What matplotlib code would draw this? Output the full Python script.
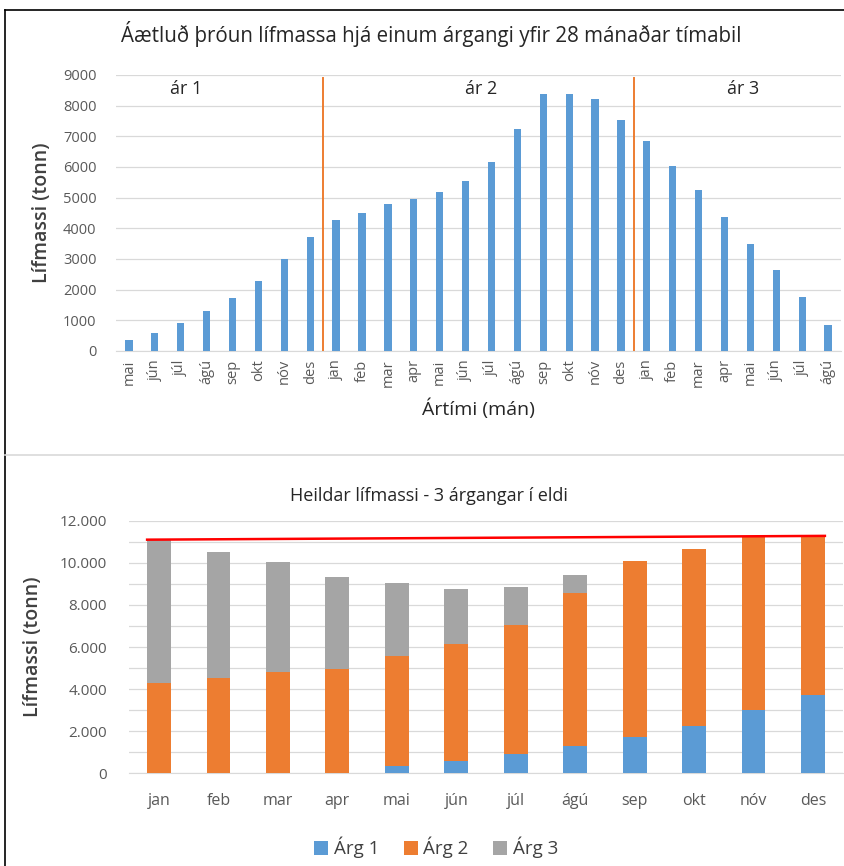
import numpy as np
import matplotlib
matplotlib.use('Agg')
import matplotlib.pyplot as plt
from matplotlib.lines import Line2D
from matplotlib.ticker import FuncFormatter

plt.rcParams['font.family'] = ['Open Sans', 'DejaVu Sans']

# top chart: one year-class over 28 months
months_28 = ['mai', 'jún', 'júl', 'ágú', 'sep', 'okt', 'nóv', 'des',
             'jan', 'feb', 'mar', 'apr', 'mai', 'jún', 'júl', 'ágú', 'sep', 'okt', 'nóv', 'des',
             'jan', 'feb', 'mar', 'apr', 'mai', 'jún', 'júl', 'ágú']
biomass_28 = [360, 600, 900, 1300, 1730, 2270, 3000, 3730,
              4270, 4510, 4800, 4960, 5200, 5530, 6170, 7250, 8370, 8370, 8220, 7530,
              6860, 6020, 5240, 4360, 3480, 2650, 1770, 850]
year_labels = ['ár 1', 'ár 2', 'ár 3']
year_label_pos = [2.2, 13.6, 23.7]
year_breaks = [7.5, 19.5]

# bottom chart: three year-classes stacked
months_12 = ['jan', 'feb', 'mar', 'apr', 'mai', 'jún', 'júl', 'ágú', 'sep', 'okt', 'nóv', 'des']
arg1 = [0, 0, 0, 0, 360, 600, 900, 1300, 1730, 2270, 3000, 3730]
arg2 = [4270, 4510, 4800, 4960, 5200, 5530, 6170, 7250, 8370, 8370, 8220, 7530]
arg3 = [6860, 6020, 5240, 4360, 3480, 2650, 1770, 850, 0, 0, 0, 0]
cap_line = [11100, 11280]

blue = '#5B9BD5'
orange = '#ED7D31'
gray = '#A5A5A5'
tick_col = '#595959'
grid_col = '#D9D9D9'

fig = plt.figure(figsize=(8.45, 8.66), dpi=100)

# ---- top panel
ax1 = fig.add_axes([0.1373, 0.5947, 0.858, 0.3187])
x1 = np.arange(len(months_28))
ax1.bar(x1, biomass_28, width=0.28, color=blue, zorder=3)
ax1.set_xlim(-0.5, len(months_28) - 0.5)
ax1.set_ylim(0, 9000)
ax1.set_yticks(range(0, 9001, 1000))
ax1.set_xticks(x1)
ax1.set_xticklabels(months_28, rotation=90, fontsize=10.5, color=tick_col)
ax1.tick_params(axis='y', labelsize=10.5, labelcolor=tick_col, length=0, pad=14)
ax1.tick_params(axis='x', length=0, pad=6)
ax1.grid(axis='y', color=grid_col, linewidth=0.9, zorder=0)
for s in ['top', 'right', 'left']:
    ax1.spines[s].set_visible(False)
ax1.spines['bottom'].set_color(grid_col)
for xb in year_breaks:
    ax1.plot([xb, xb], [0, 8900], color=orange, linewidth=1.4, zorder=4)
for lab, xp in zip(year_labels, year_label_pos):
    ax1.text(xp, 8550, lab, ha='center', va='center', fontsize=13, color='#262626')
ax1.set_title('Áætluð þróun lífmassa hjá einum árgangi yfir 28 mánaðar tímabil',
              fontsize=14.8, color='#262626', pad=24, x=0.435)
ax1.set_xlabel('Ártími (mán)', fontsize=14, color='#262626', labelpad=8)
ax1.set_ylabel('Lífmassi (tonn)', fontsize=14, fontweight='semibold', color='#404040', labelpad=8)

# ---- bottom panel
ax2 = fig.add_axes([0.153, 0.107, 0.8443, 0.2917])
x2 = np.arange(len(months_12))
w = 0.4
b1 = ax2.bar(x2, arg1, width=w, color=blue, zorder=3, label='Árg 1')
b2 = ax2.bar(x2, arg2, width=w, bottom=arg1, color=orange, zorder=3, label='Árg 2')
bottom3 = np.array(arg1) + np.array(arg2)
b3 = ax2.bar(x2, arg3, width=w, bottom=bottom3, color=gray, zorder=3, label='Árg 3')
ax2.plot([x2[0] - w / 2, x2[-1] + w / 2], cap_line, color='#FF0000', linewidth=1.8, zorder=5)
ax2.set_xlim(-0.5, len(months_12) - 0.5)
ax2.set_ylim(0, 12000)
ax2.set_yticks(range(0, 12001, 2000))
ax2.set_yticks(range(1000, 12000, 2000), minor=True)
ax2.yaxis.set_major_formatter(FuncFormatter(lambda v, p: f'{int(v):,}'.replace(',', '.')))
ax2.set_xticks(x2)
ax2.set_xticklabels(months_12, fontsize=11.5, color=tick_col)
ax2.tick_params(axis='y', which='both', labelsize=11, labelcolor=tick_col, length=0, pad=16)
ax2.tick_params(axis='x', length=0, pad=14)
ax2.grid(axis='y', which='both', color=grid_col, linewidth=0.9, zorder=0)
for s in ['top', 'right', 'left']:
    ax2.spines[s].set_visible(False)
ax2.spines['bottom'].set_color(grid_col)
ax2.set_title('Heildar lífmassi - 3 árgangar í eldi', fontsize=13, color='#262626', pad=14, x=0.42)
ax2.set_ylabel('Lífmassi (tonn)', fontsize=14, fontweight='semibold', color='#404040', labelpad=12)
ax2.legend(handles=[b1, b2, b3], loc='upper center', bbox_to_anchor=(0.43, -0.185), ncol=3,
           frameon=False, fontsize=13.5, handlelength=0.75, handleheight=0.75,
           handletextpad=0.3, columnspacing=1.3, labelcolor='#404040')

# frame lines like the original sheet
fig.add_artist(Line2D([5 / 845, 1], [1 - 10 / 866, 1 - 10 / 866], color='black', linewidth=1.2))
fig.add_artist(Line2D([5 / 845, 5 / 845], [0, 1 - 10 / 866], color='black', linewidth=1.2))
fig.add_artist(Line2D([5 / 845, 1], [1 - 455 / 866, 1 - 455 / 866], color='#D9D9D9', linewidth=1.2))

fig.savefig('out.png', dpi=100)
